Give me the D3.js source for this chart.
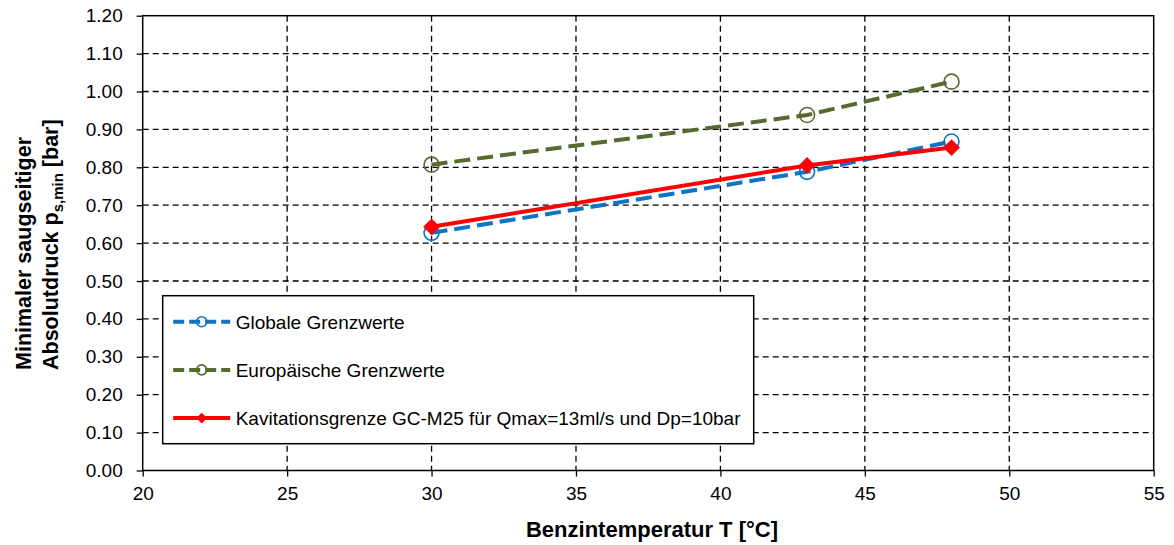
<!DOCTYPE html>
<html lang="de">
  <head>
    <meta charset="UTF-8" />
    <title>Minimaler saugseitiger Absolutdruck</title>
    <script src="https://d3js.org/d3.v7.min.js"></script>
    <style>
      body {
        margin: 0;
        background: #fff;
      }
      svg text {
        font-family: "Liberation Sans", Arial, sans-serif;
        fill: #000;
      }
    </style>
  </head>
  <body>
    <svg id="chart" width="1174" height="545"></svg>
    <script>
      // values
      const temps = [30, 43, 48];
      const globalValues = [0.627, 0.788, 0.868];
      const euroValues = [0.807, 0.938, 1.026];
      const kavValues = [0.643, 0.805, 0.852];
      const xTicks = [20, 25, 30, 35, 40, 45, 50, 55];
      const yTicks = [0, 0.1, 0.2, 0.3, 0.4, 0.5, 0.6, 0.7, 0.8, 0.9, 1.0, 1.1, 1.2];
      const seriesNames = [
        "Globale Grenzwerte",
        "Europäische Grenzwerte",
        "Kavitationsgrenze GC-M25 für Qmax=13ml/s und Dp=10bar",
      ];

      const svg = d3.select("#chart");
      const margin = { top: 15.7, right: 20.3, bottom: 74.5, left: 142.7 };
      const width = +svg.attr("width") - margin.left - margin.right;
      const height = +svg.attr("height") - margin.top - margin.bottom;

      const g = svg
        .append("g")
        .attr("transform", `translate(${margin.left},${margin.top})`);

      const x = d3.scaleLinear().domain([20, 55]).range([0, width]);
      const y = d3.scaleLinear().domain([0, 1.2]).range([height, 0]);

      // dashed grid
      g.append("g")
        .selectAll("line")
        .data(yTicks.slice(1, -1))
        .join("line")
        .attr("x1", 0)
        .attr("x2", width)
        .attr("y1", (d) => y(d))
        .attr("y2", (d) => y(d))
        .attr("stroke", "#000")
        .attr("stroke-width", 1.3)
        .attr("stroke-dasharray", "6,4");

      g.append("g")
        .selectAll("line")
        .data(xTicks.slice(1, -1))
        .join("line")
        .attr("x1", (d) => x(d))
        .attr("x2", (d) => x(d))
        .attr("y1", 0)
        .attr("y2", height)
        .attr("stroke", "#000")
        .attr("stroke-width", 1.3)
        .attr("stroke-dasharray", "6,4");

      // axes
      const xAxis = g
        .append("g")
        .attr("transform", `translate(0,${height})`)
        .call(
          d3.axisBottom(x).tickValues(xTicks).tickSize(6).tickPadding(10).tickFormat(d3.format("d"))
        );
      const yAxis = g
        .append("g")
        .call(
          d3.axisLeft(y).tickValues(yTicks).tickSize(6).tickPadding(14).tickFormat(d3.format(".2f"))
        );
      [xAxis, yAxis].forEach((a) => {
        a.select(".domain").remove();
        a.selectAll("line").attr("stroke", "#000").attr("stroke-width", 1.3);
        a.selectAll("text").style("font-size", "19px");
      });

      // frame
      g.append("rect")
        .attr("width", width)
        .attr("height", height)
        .attr("fill", "none")
        .attr("stroke", "#000")
        .attr("stroke-width", 1.5);

      // axis titles
      svg
        .append("text")
        .attr("x", 652)
        .attr("y", 537)
        .attr("text-anchor", "middle")
        .style("font-size", "22px")
        .style("font-weight", "bold")
        .text("Benzintemperatur T [°C]");

      const yTitle = svg
        .append("text")
        .attr("transform", "translate(0,370) rotate(-90)")
        .attr("text-anchor", "start")
        .style("font-size", "21.5px")
        .style("font-weight", "bold");
      yTitle.append("tspan").attr("x", 0).attr("y", 31).text("Minimaler saugseitiger");
      const l2 = yTitle.append("tspan").attr("x", 0).attr("y", 58);
      l2.append("tspan").text("Absolutdruck p");
      l2.append("tspan").attr("dy", 5).style("font-size", "15px").text("s,min");
      l2.append("tspan").attr("dy", -5).text(" [bar]");

      // legend
      const legend = g.append("g").attr("transform", "translate(20,280)");
      legend
        .append("rect")
        .attr("width", 591)
        .attr("height", 148)
        .attr("fill", "#fff")
        .attr("stroke", "#000")
        .attr("stroke-width", 1.5);

      const series = [
        { name: seriesNames[0], values: globalValues, color: "#0f74c4", dash: "16,7", marker: "circle" },
        { name: seriesNames[1], values: euroValues, color: "#556b2f", dash: "16,7", marker: "circle" },
        { name: seriesNames[2], values: kavValues, color: "#ff0000", dash: null, marker: "diamond" },
      ];

      const line = d3
        .line()
        .x((d) => x(d[0]))
        .y((d) => y(d[1]));

      function drawMarker(sel, s, cx, cy, small) {
        if (s.marker === "circle") {
          sel.append("circle")
            .attr("cx", cx)
            .attr("cy", cy)
            .attr("r", small ? 5 : 7.5)
            .attr("fill", "none")
            .attr("stroke", s.color)
            .attr("stroke-width", 1.6);
        } else {
          sel.append("path")
            .attr("d", d3.symbol(d3.symbolDiamond2, small ? 75 : 180)())
            .attr("transform", `translate(${cx},${cy})`)
            .attr("fill", s.color);
        }
      }

      series.forEach((s, i) => {
        const pts = temps.map((t, j) => [t, s.values[j]]);
        g.append("path")
          .datum(pts)
          .attr("d", line)
          .attr("fill", "none")
          .attr("stroke", s.color)
          .attr("stroke-width", 4)
          .attr("stroke-dasharray", s.dash);
        const mk = g.append("g");
        pts.forEach((p) => drawMarker(mk, s, x(p[0]), y(p[1]), false));

        const ly = 26 + i * 48.2;
        legend
          .append("line")
          .attr("x1", 10.5)
          .attr("x2", 67.5)
          .attr("y1", ly)
          .attr("y2", ly)
          .attr("stroke", s.color)
          .attr("stroke-width", 4)
          .attr("stroke-dasharray", s.dash ? "11,5" : null);
        drawMarker(legend, s, 39, ly, true);
        legend
          .append("text")
          .attr("x", 73)
          .attr("y", ly + 7)
          .style("font-size", "19px")
          .text(s.name);
      });
    </script>
  </body>
</html>
